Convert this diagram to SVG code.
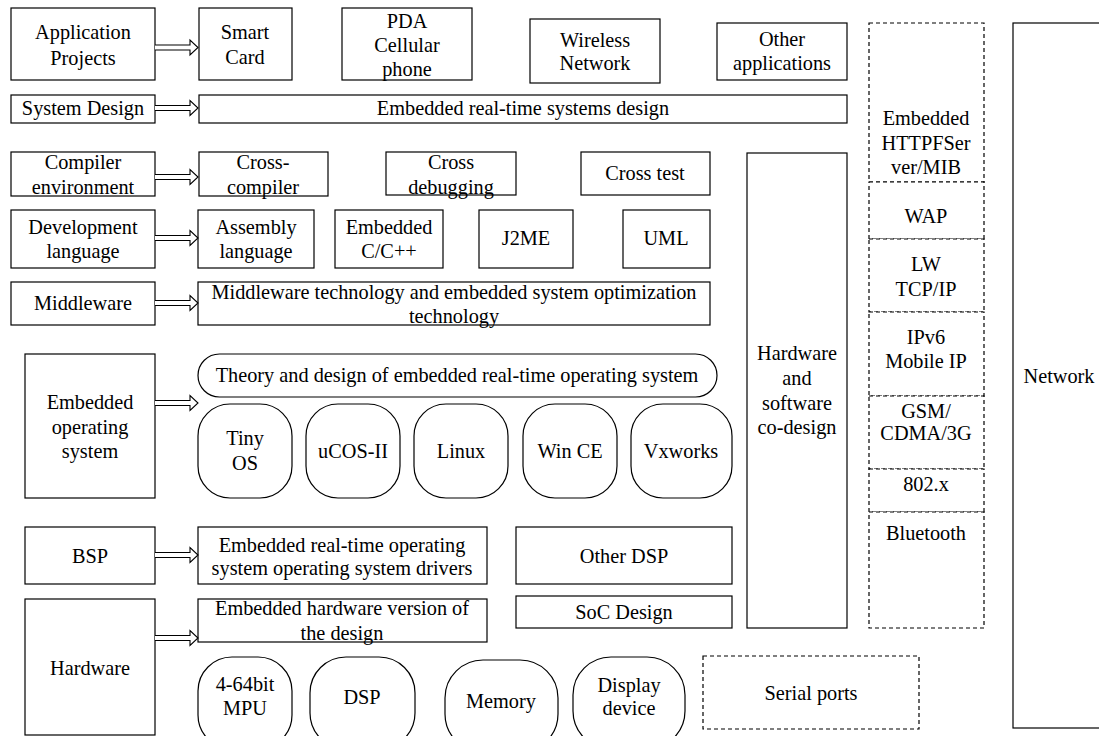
<svg xmlns="http://www.w3.org/2000/svg" width="1099" height="736" viewBox="0 0 1099 736">
<style>
rect{fill:#fff;stroke:#000;stroke-width:1.2}
.d{stroke-dasharray:4 3}
text{font-family:"Liberation Serif","Times New Roman",serif;font-size:20.3px;fill:#000;text-anchor:middle}
.ar{fill:#fff;stroke:#000;stroke-width:1.1}
</style>
<rect width="1099" height="736" style="stroke:none"/>
<g id="network"><rect x="1013" y="23" width="120" height="705"/><text x="1059" y="383">Network</text></g>
<g id="app-projects"><rect x="11" y="8" width="144" height="72"/><text x="83" y="39">Application</text><text x="83" y="65">Projects</text></g>
<g id="smart-card"><rect x="199" y="8" width="93" height="72"/><text x="245" y="39">Smart</text><text x="245" y="64">Card</text></g>
<g id="pda"><rect x="342" y="8" width="130" height="72"/><text x="407" y="28">PDA</text><text x="407" y="52">Cellular</text><text x="407" y="76">phone</text></g>
<g id="wireless"><rect x="530" y="19" width="130" height="64"/><text x="595" y="47">Wireless</text><text x="595" y="70">Network</text></g>
<g id="other-apps"><rect x="717" y="23" width="130" height="57"/><text x="782" y="46">Other</text><text x="782" y="70">applications</text></g>
<g id="system-design"><rect x="11" y="95" width="144" height="28"/><text x="83" y="115">System Design</text></g>
<g id="rt-sys-design"><rect x="199" y="95" width="648" height="28"/><text x="523" y="115">Embedded real-time systems design</text></g>
<g id="compiler-env"><rect x="11" y="152" width="144" height="44"/><text x="83" y="169">Compiler</text><text x="83" y="194">environment</text></g>
<g id="cross-compiler"><rect x="199" y="152" width="129" height="44"/><text x="263" y="169">Cross-</text><text x="263" y="194">compiler</text></g>
<g id="cross-debugging"><rect x="386" y="152" width="130" height="43"/><text x="451" y="169">Cross</text><text x="451" y="194">debugging</text></g>
<g id="cross-test"><rect x="581" y="152" width="129" height="43"/><text x="645" y="180">Cross test</text></g>
<g id="hw-sw-codesign"><rect x="747" y="153" width="100" height="475"/><text x="797" y="360">Hardware</text><text x="797" y="385">and</text><text x="797" y="410">software</text><text x="797" y="434">co-design</text></g>
<g id="net-stack">
<rect class="d" x="869" y="23" width="115" height="159"/><text x="926" y="125">Embedded</text><text x="926" y="150">HTTPFSer</text><text x="926" y="174">ver/MIB</text>
<rect class="d" x="869" y="182" width="115" height="57"/><text x="926" y="223">WAP</text>
<rect class="d" x="869" y="239" width="115" height="73"/><text x="926" y="271">LW</text><text x="926" y="296">TCP/IP</text>
<rect class="d" x="869" y="312" width="115" height="84"/><text x="926" y="344">IPv6</text><text x="926" y="368">Mobile IP</text>
<rect class="d" x="869" y="396" width="115" height="73"/><text x="926" y="418">GSM/</text><text x="926" y="440">CDMA/3G</text>
<rect class="d" x="869" y="469" width="115" height="43"/><text x="926" y="491">802.x</text>
<rect class="d" x="869" y="512" width="115" height="116"/><text x="926" y="540">Bluetooth</text>
</g>
<g id="dev-lang"><rect x="11" y="210" width="144" height="58"/><text x="83" y="234">Development</text><text x="83" y="258">language</text></g>
<g id="assembly"><rect x="198" y="210" width="116" height="58"/><text x="256" y="234">Assembly</text><text x="256" y="258">language</text></g>
<g id="c-cpp"><rect x="335" y="210" width="108" height="58"/><text x="389" y="234">Embedded</text><text x="389" y="258">C/C++</text></g>
<g id="j2me"><rect x="479" y="210" width="94" height="58"/><text x="526" y="245">J2ME</text></g>
<g id="uml"><rect x="623" y="210" width="87" height="58"/><text x="666" y="245">UML</text></g>
<g id="middleware"><rect x="11" y="282" width="144" height="43"/><text x="83" y="310">Middleware</text></g>
<g id="middleware-tech"><rect x="198" y="282" width="512" height="43"/><text x="454" y="299">Middleware technology and embedded system optimization</text><text x="454" y="323">technology</text></g>
<g id="emb-os"><rect x="25" y="354" width="130" height="144"/><text x="90" y="409">Embedded</text><text x="90" y="434">operating</text><text x="90" y="458">system</text></g>
<g id="rtos-theory"><rect x="198" y="354" width="519" height="43" rx="21.5"/><text x="457" y="382">Theory and design of embedded real-time operating system</text></g>
<g id="tinyos"><rect x="198" y="404" width="94" height="94" rx="32"/><text x="245" y="445">Tiny</text><text x="245" y="470">OS</text></g>
<g id="ucos"><rect x="306" y="404" width="94" height="94" rx="32"/><text x="353" y="458">uCOS-II</text></g>
<g id="linux"><rect x="414" y="404" width="94" height="94" rx="32"/><text x="461" y="458">Linux</text></g>
<g id="wince"><rect x="523" y="404" width="94" height="94" rx="32"/><text x="570" y="458">Win CE</text></g>
<g id="vxworks"><rect x="631" y="404" width="101" height="94" rx="32"/><text x="681" y="458">Vxworks</text></g>
<g id="bsp"><rect x="25" y="527" width="130" height="57"/><text x="90" y="563">BSP</text></g>
<g id="drivers"><rect x="198" y="527" width="289" height="57"/><text x="342" y="552">Embedded real-time operating</text><text x="342" y="575">system operating system drivers</text></g>
<g id="other-dsp"><rect x="516" y="527" width="216" height="57"/><text x="624" y="563">Other DSP</text></g>
<g id="hardware"><rect x="25" y="599" width="130" height="136"/><text x="90" y="675">Hardware</text></g>
<g id="hw-version"><rect x="198" y="599" width="289" height="43"/><text x="342" y="615">Embedded hardware version of</text><text x="342" y="640">the design</text></g>
<g id="soc"><rect x="516" y="596" width="216" height="32"/><text x="624" y="619">SoC Design</text></g>
<g id="mpu"><rect x="198" y="657" width="94" height="92" rx="34"/><text x="245" y="691">4-64bit</text><text x="245" y="715">MPU</text></g>
<g id="dsp"><rect x="310" y="657" width="105" height="92" rx="36"/><text x="362" y="704">DSP</text></g>
<g id="memory"><rect x="445" y="660" width="113" height="92" rx="38"/><text x="501" y="708">Memory</text></g>
<g id="display"><rect x="573" y="657" width="112" height="92" rx="38"/><text x="629" y="692">Display</text><text x="629" y="715">device</text></g>
<g id="serial"><rect class="d" x="703" y="656" width="216" height="73"/><text x="811" y="700">Serial ports</text></g>
<g id="connectors">
<path class="ar" d="M155,45 H190 V40 L198,47.5 L190,55 V50 H155"/>
<path class="ar" d="M155,105.5 H190 V100.5 L198,108 L190,115.5 V110.5 H155"/>
<path class="ar" d="M155,174.5 H190 V169.5 L198,177 L190,184.5 V179.5 H155"/>
<path class="ar" d="M155,235.5 H190 V230.5 L198,238 L190,245.5 V240.5 H155"/>
<path class="ar" d="M155,300.5 H190 V295.5 L198,303 L190,310.5 V305.5 H155"/>
<path class="ar" d="M155,400.5 H190 V395.5 L198,403 L190,410.5 V405.5 H155"/>
<path class="ar" d="M155,552.5 H190 V547.5 L198,555 L190,562.5 V557.5 H155"/>
<path class="ar" d="M155,635.5 H190 V630.5 L198,638 L190,645.5 V640.5 H155"/>
</g>
</svg>
